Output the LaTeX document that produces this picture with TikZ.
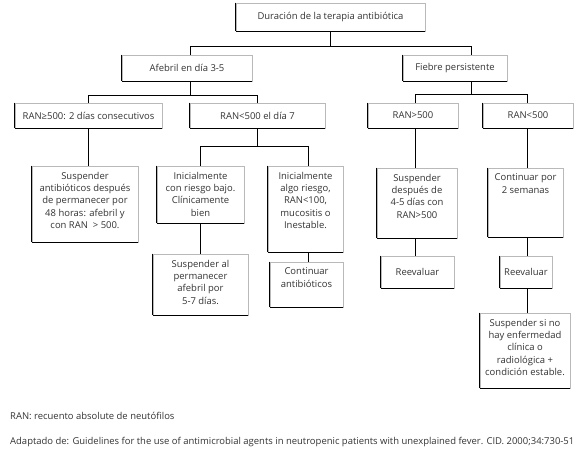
\documentclass[tikz,border=0pt]{standalone}
\usepackage{fontspec}
\setmainfont{Open Sans}
\begin{document}
\begin{tikzpicture}[x=1bp,y=-1bp,
  every node/.style={font=\fontsize{9.5}{12.4}\selectfont, text=black!80},
  box/.style={draw=gray!55, line width=0.9bp, fill=white, inner sep=0pt, align=center,
    append after command={(\tikzlastnode.north west) edge[draw=black,line width=0.9bp] (\tikzlastnode.south west)
      (\tikzlastnode.south west) edge[draw=black,line width=0.9bp] (\tikzlastnode.south east)}},
  conn/.style={draw=black, line width=0.9bp},
  foot/.style={anchor=west, inner sep=0pt}]
\newcommand{\tb}[3]{\parbox[c][#2bp][t]{#1bp}{\centering #3\par}}
\useasboundingbox (0,0) rectangle (580,455);
% level 0
\node[box, minimum width=189bp, minimum height=28bp] (top) at (330.5,17) {Duración de la terapia antibiótica};
% level 1
\node[box, minimum width=130bp, minimum height=26bp] (afeb) at (187,68) {Afebril en día 3-5};
\node[box, minimum width=104bp, minimum height=26bp] (fieb) at (455,68) {Fiebre persistente};
% level 2
\node[box, minimum width=147bp, minimum height=25bp] (ranA) at (88.5,115.5) {RAN≥500: 2 días consecutivos};
\node[box, minimum width=135bp, minimum height=25bp] (ranB) at (257.5,115.5) {RAN<500 el día 7};
\node[box, minimum width=90bp, minimum height=25bp] (ranC) at (413,115.5) {RAN>500};
\node[box, minimum width=90bp, minimum height=25bp] (ranD) at (528,115.5) {RAN<500};
% level 3
\node[box, minimum width=106bp, minimum height=76bp] (susp1) at (85,204)
  {\tb{106}{64}{Suspender\\antibióticos después\\de permanecer por\\48 horas: afebril y\\con RAN \ > 500.}};
\node[box, minimum width=87bp, minimum height=57bp] (ini1) at (200.5,194.5)
  {\tb{87}{45}{Inicialmente\\con riesgo bajo.\\Clínicamente\\bien}};
\node[box, minimum width=75bp, minimum height=86bp] (ini2) at (305.5,209)
  {\tb{75}{74}{Inicialmente\\algo riesgo,\\RAN<100,\\mucositis o\\Inestable.}};
\node[box, minimum width=80bp, minimum height=70bp] (susp3) at (417,203)
  {\tb{80}{58}{Suspender\\después de\\4-5 días con\\RAN>500}};
\node[box, minimum width=75bp, minimum height=69bp] (cont2) at (525.5,202.5)
  {\tb{75}{57}{Continuar por\\2 semanas}};
% level 4
\node[box, minimum width=95bp, minimum height=61bp] (susp2) at (200.5,284.5)
  {\tb{95}{49}{Suspender al\\permanecer\\afebril por\\5-7 días.}};
\node[box, minimum width=73bp, minimum height=45bp] (cont1) at (306.5,284.5)
  {\tb{73}{33}{Continuar\\antibióticos}};
\node[box, minimum width=73bp, minimum height=32bp] (reev1) at (417.5,272) {Reevaluar};
\node[box, minimum width=52bp, minimum height=32bp] (reev2) at (526,272) {Reevaluar};
% level 5
\node[box, minimum width=90bp, minimum height=75bp] (susp4) at (525,350.5)
  {\tb{90}{63}{Suspender si no\\hay enfermedad\\clínica o\\radiológica +\\condición estable.}};
% footnotes
\node[foot] (f1) at (10,416) {RAN: recuento absolute de neutófilos};
\node[foot] (f2) at (10,442) {Adaptado de: Guidelines for the use of antimicrobial agents in neutropenic patients with unexplained fever. CID. 2000;34:730-51};
% connectors
\draw[conn] (top.south) -- ++(0,16);
\draw[conn] ([xshift=3bp]afeb.north) -- ++(0,-8) -| ([xshift=16bp]fieb.north);
\draw[conn] ([xshift=3bp]afeb.south) -- ++(0,15);
\draw[conn] (ranA.north) -- ++(0,-7) -| (ranB.north);
\draw[conn] ([xshift=16bp]fieb.south) -- ++(0,14);
\draw[conn] ([xshift=2bp]ranC.north) -- ++(0,-8) -| ([xshift=-1bp]ranD.north);
\draw[conn] (ranA.south) -- (ranA.south |- susp1.north);
\draw[conn] (ranB.south) -- ++(0,19);
\draw[conn] (ini1.north) -- ++(0,-19) -| ([xshift=2.5bp]ini2.north);
\draw[conn] ([xshift=2bp]ranC.south) -- ([xshift=2bp]ranC.south |- susp3.north);
\draw[conn] ([xshift=-1bp]ranD.south) -- ([xshift=-1bp]ranD.south |- cont2.north);
\draw[conn] (ini1.south) -- (ini1.south |- susp2.north);
\draw[conn] ([xshift=2.5bp]ini2.south) -- ([xshift=2.5bp]ini2.south |- cont1.north);
\draw[conn] ([xshift=-2bp]susp3.south) -- ([xshift=-2bp]susp3.south |- reev1.north);
\draw[conn] ([xshift=1.5bp]cont2.south) -- ([xshift=1.5bp]cont2.south |- reev2.north);
\draw[conn] ([xshift=1bp]reev2.south) -- ([xshift=1bp]reev2.south |- susp4.north);
\end{tikzpicture}
\end{document}
